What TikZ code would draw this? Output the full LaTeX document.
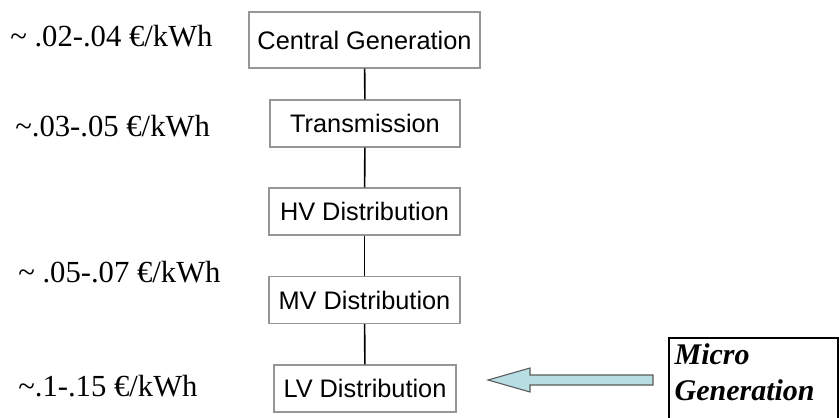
\documentclass[tikz,border=0pt]{standalone}
\usepackage{fontspec}
\setmainfont{Liberation Serif}
\newfontfamily\arialfont{Liberation Sans}
\usepackage{tikz}
\usetikzlibrary{calc}
\definecolor{boxgray}{RGB}{150,150,150}
\definecolor{arrowfill}{RGB}{183,222,226}
\definecolor{arrowline}{RGB}{90,90,90}

\begin{document}
\begin{tikzpicture}[x=0.75pt, y=-0.75pt,
  stage/.style={draw=boxgray, line width=1.1pt, inner xsep=0pt,
    font=\arialfont\fontsize{19}{22}\selectfont, minimum height=35pt},
  price/.style={anchor=west, inner sep=0pt, font=\fontsize{23}{27}\selectfont}]
\useasboundingbox (0,0) rectangle (840,418);
\clip (0,0) rectangle (840,418);

% Supply chain
\node[stage, minimum width=173pt, minimum height=42pt] (cg) at (364.5,40) {Central Generation};
\node[stage, minimum width=142.5pt] (tr) at (365,123.5) {Transmission};
\node[stage, minimum width=143pt] (hv) at (364.5,211.5) {HV Distribution};
\node[stage, minimum width=143pt] (mv) at (364.5,300) {MV Distribution};
\node[stage, minimum width=136.5pt] (lv) at (365,388.5) {LV Distribution};

\draw[line width=1.2pt] (cg) -- (tr);
\draw[line width=1.2pt] (tr) -- (hv);
\draw[line width=1.2pt] (hv) -- (mv);
\draw[line width=1.2pt] (mv) -- (lv);

% Prices
\node[price] (p1) at (10,36) {\char"7E{} .02-.04 \texteuro/kWh};
\node[price] (p2) at (15,126) {\char"7E.03-.05 \texteuro/kWh};
\node[price] (p3) at (18,272) {\char"7E{} .05-.07 \texteuro/kWh};
\node[price] (p4) at (18,386) {\char"7E.1-.15 \texteuro/kWh};

% Micro generation
\node[anchor=north west, inner xsep=4pt, inner ysep=4pt, align=left,
  font=\bfseries\itshape\fontsize{22.5}{27}\selectfont] (micro) at (669,338) {Micro\\Generation};
\draw[line width=0.8pt] (micro.north west) rectangle ++(169,95);

\coordinate (tail) at (653,380);
\coordinate (tip) at (488,380);
\filldraw[fill=arrowfill, draw=arrowline, line width=0.8pt]
  (tip) -- ($(tip)+(42,-12)$) -- ($(tip)+(42,-5)$) -- ($(tail)+(0,-5)$)
  -- ($(tail)+(0,5)$) -- ($(tip)+(42,5)$) -- ($(tip)+(42,12)$) -- cycle;

\end{tikzpicture}
\end{document}
